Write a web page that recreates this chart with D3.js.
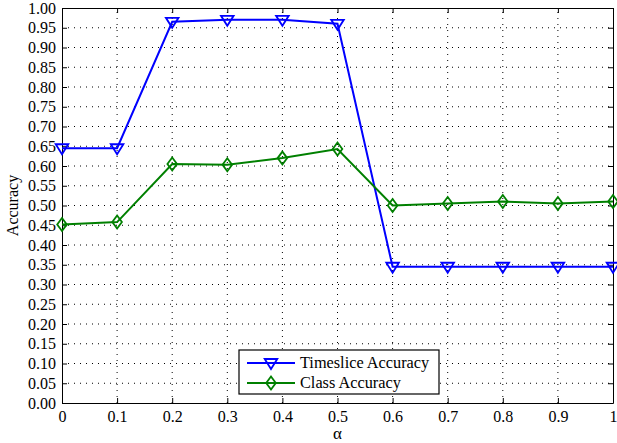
<!DOCTYPE html>
<meta charset="utf-8">
<style>
  body { margin: 0; background: #fff; }
  .grid line { stroke: #000; stroke-dasharray: 1,5; stroke-width: 1; }
</style>
<body>
<script src="https://d3js.org/d3.v7.min.js"></script>
<script>

var alphas = [0, 0.1, 0.2, 0.3, 0.4, 0.5, 0.6, 0.7, 0.8, 0.9, 1];
var timesliceAcc = [0.645, 0.645, 0.965, 0.97, 0.97, 0.96, 0.345, 0.345, 0.345, 0.345, 0.345];
var classAcc = [0.452, 0.458, 0.605, 0.603, 0.62, 0.643, 0.5, 0.505, 0.51, 0.505, 0.51];
var xTicks = [0, 0.1, 0.2, 0.3, 0.4, 0.5, 0.6, 0.7, 0.8, 0.9, 1];
var yTicks = d3.range(0, 1.0001, 0.05);

var width = 617, height = 443;
var margin = {top: 8, right: 4, bottom: 40, left: 62};
var serif = "'Liberation Serif'";

var svg = d3.select("body").append("svg")
    .attr("width", width)
    .attr("height", height);

var x = d3.scaleLinear().domain([0, 1]).range([margin.left, width - margin.right]);
var y = d3.scaleLinear().domain([0, 1]).range([height - margin.bottom, margin.top]);

// dotted grid
var grid = svg.append("g").attr("class", "grid");
grid.selectAll(".gx").data(xTicks.slice(1, -1)).enter().append("line")
    .attr("x1", d => x(d)).attr("x2", d => x(d))
    .attr("y1", y(0)).attr("y2", y(1));
grid.selectAll(".gy").data(yTicks.slice(1, -1)).enter().append("line")
    .attr("x1", x(0)).attr("x2", x(1))
    .attr("y1", d => y(d)).attr("y2", d => y(d));

// axes with inward ticks on all sides
var fmtY = d3.format(".2f");
var fmtX = function(d) { return d === 0 ? "0" : d === 1 ? "1" : d3.format(".1f")(d); };

svg.append("g")
    .attr("transform", "translate(0," + y(0) + ")")
    .call(d3.axisBottom(x).tickValues(xTicks).tickFormat(fmtX).tickSizeInner(-5).tickSizeOuter(0).tickPadding(8));
svg.append("g")
    .attr("transform", "translate(0," + y(1) + ")")
    .call(d3.axisTop(x).tickValues(xTicks).tickFormat("").tickSizeInner(-5).tickSizeOuter(0));
svg.append("g")
    .attr("transform", "translate(" + x(0) + ",0)")
    .call(d3.axisLeft(y).tickValues(yTicks).tickFormat(fmtY).tickSizeInner(-5).tickSizeOuter(0).tickPadding(6));
svg.append("g")
    .attr("transform", "translate(" + x(1) + ",0)")
    .call(d3.axisRight(y).tickValues(yTicks).tickFormat("").tickSizeInner(-5).tickSizeOuter(0));

svg.selectAll(".tick text")
    .style("font-family", serif)
    .style("font-size", "16px")
    .attr("fill", "#000");
svg.selectAll(".domain").attr("stroke", "#000").attr("stroke-width", 1);
svg.selectAll(".tick line").attr("stroke", "#000");

// axis titles
svg.append("text")
    .attr("x", x(0.5)).attr("y", 439)
    .attr("text-anchor", "middle")
    .style("font-family", serif)
    .style("font-size", "17px")
    .text("α");
svg.append("text")
    .attr("transform", "translate(18," + y(0.5) + ") rotate(-90)")
    .attr("text-anchor", "middle")
    .style("font-family", serif)
    .style("font-size", "16px")
    .text("Accuracy");

var line = d3.line().x((d, i) => x(alphas[i])).y(d => y(d));

var triDown = function(cx, cy) {
  return "M" + (cx - 6.3) + "," + (cy - 4) + "L" + (cx + 6.3) + "," + (cy - 4) + "L" + cx + "," + (cy + 6) + "Z";
};
var diamond = function(cx, cy) {
  return "M" + cx + "," + (cy - 6.5) + "L" + (cx + 4.8) + "," + cy + "L" + cx + "," + (cy + 6.5) + "L" + (cx - 4.8) + "," + cy + "Z";
};

var series = [
  {name: "Timeslice Accuracy", values: timesliceAcc, color: "#0000ff", marker: triDown},
  {name: "Class Accuracy", values: classAcc, color: "#008000", marker: diamond}
];

series.forEach(function(s) {
  svg.append("path")
      .datum(s.values)
      .attr("fill", "none")
      .attr("stroke", s.color)
      .attr("stroke-width", 2)
      .attr("d", line);
  svg.selectAll(null).data(s.values).enter().append("path")
      .attr("d", (d, i) => s.marker(x(alphas[i]), y(d)))
      .attr("fill", "none")
      .attr("stroke", s.color)
      .attr("stroke-width", 1.8);
});

// legend
var lg = svg.append("g").attr("transform", "translate(239,350)");
lg.append("rect")
    .attr("width", 200).attr("height", 44)
    .attr("fill", "#fff").attr("stroke", "#000").attr("stroke-width", 1.2);
series.forEach(function(s, i) {
  var cy = 13 + i * 20;
  lg.append("line")
      .attr("x1", 8).attr("x2", 56).attr("y1", cy).attr("y2", cy)
      .attr("stroke", s.color).attr("stroke-width", 2);
  lg.append("path")
      .attr("d", s.marker(32, cy))
      .attr("fill", "none").attr("stroke", s.color).attr("stroke-width", 1.8);
  lg.append("text")
      .attr("x", 61).attr("y", cy + 5)
      .style("font-family", serif)
      .style("font-size", "16.3px")
      .text(s.name);
});

</script>
</body>
</html>
